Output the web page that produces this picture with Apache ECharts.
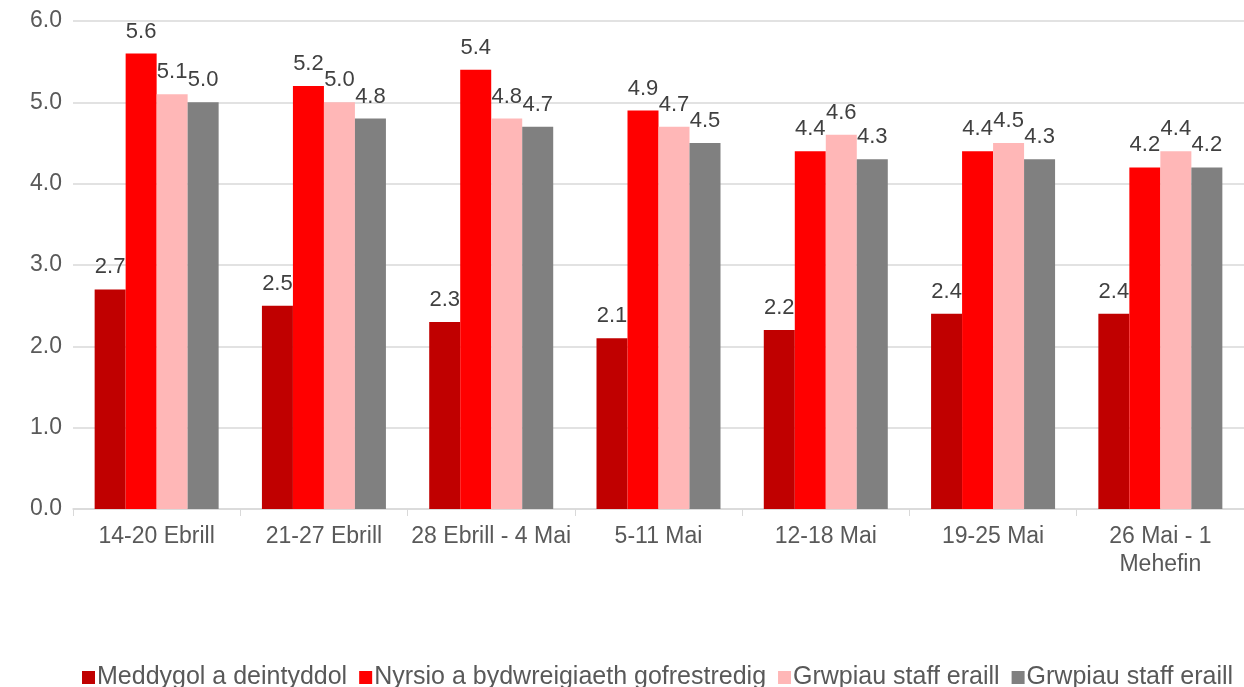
<!DOCTYPE html>
<html>
<head>
<meta charset="utf-8">
<script src="https://cdn.jsdelivr.net/npm/echarts@6/dist/echarts.min.js"></script>
<style>
    html, body { margin: 0; padding: 0; background: #fff; }
    #chart { width: 1244px; height: 687px; }
</style>
</head>
<body>
<div id="chart"></div>
<script>
var categories = ['14-20 Ebrill', '21-27 Ebrill', '28 Ebrill - 4 Mai', '5-11 Mai', '12-18 Mai', '19-25 Mai', '26 Mai - 1\nMehefin'];
var seriesNames = ['Meddygol a deintyddol', 'Nyrsio a bydwreigiaeth gofrestredig', 'Grwpiau staff eraill', 'Grwpiau staff eraill '];
var meddygol = [2.7, 2.5, 2.3, 2.1, 2.2, 2.4, 2.4];
var nyrsio = [5.6, 5.2, 5.4, 4.9, 4.4, 4.4, 4.2];
var grwpiau1 = [5.1, 5.0, 4.8, 4.7, 4.6, 4.5, 4.4];
var grwpiau2 = [5.0, 4.8, 4.7, 4.5, 4.3, 4.3, 4.2];
var colors = ['#C00000', '#FF0000', '#FFB7B7', '#808080'];

initChart();

function initChart() {
    var myChart = echarts.init(document.getElementById('chart'));
    var font = '"Liberation Sans", Arial, sans-serif';
    var values = [meddygol, nyrsio, grwpiau1, grwpiau2];
    var series = [];
    for (var i = 0; i < values.length; i++) {
        series.push({
            name: seriesNames[i],
            type: 'bar',
            barWidth: 31,
            barGap: '0%',
            itemStyle: { color: colors[i] },
            label: {
                show: true,
                position: 'top',
                distance: 11,
                color: '#404040',
                fontSize: 22,
                fontFamily: font,
                formatter: function (p) { return p.value.toFixed(1); }
            },
            data: values[i]
        });
    }
    var option = {
        animation: false,
        textStyle: { fontFamily: font },
        grid: { left: 73, right: -7, top: 21, bottom: 178 },
        legend: {
            top: 660,
            left: 77,
            itemWidth: 13,
            itemHeight: 13,
            itemGap: 12,
            icon: 'rect',
            textStyle: { fontSize: 25, color: '#595959', padding: [0, 0, 0, -3] },
            formatter: function (n) { return n.trim(); },
            data: seriesNames
        },
        xAxis: {
            type: 'category',
            data: categories,
            axisLine: { lineStyle: { color: '#d9d9d9', width: 1.5 } },
            axisTick: { show: true, length: 7, lineStyle: { color: '#d9d9d9' } },
            axisLabel: { color: '#595959', fontSize: 23, margin: 14, lineHeight: 28, interval: 0 }
        },
        yAxis: {
            type: 'value',
            min: 0,
            max: 6,
            interval: 1,
            axisLine: { show: false },
            axisTick: { show: false },
            splitLine: { lineStyle: { color: '#d9d9d9', width: 1.5 } },
            axisLabel: {
                color: '#595959', fontSize: 23, margin: 11,
                formatter: function (v) { return v.toFixed(1); }
            }
        },
        series: series
    };
    myChart.setOption(option);
}
</script>
</body>
</html>
